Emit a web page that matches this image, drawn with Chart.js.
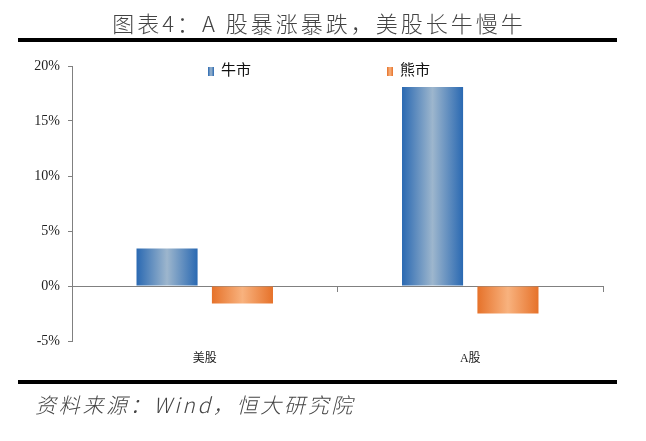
<!DOCTYPE html>
<html>
<head>
<meta charset="utf-8">
<script src="https://cdn.jsdelivr.net/npm/chart.js@4.4.0/dist/chart.umd.min.js"></script>
<style>
    body { margin: 0; background: white; }
    #tela { position: relative; width: 646px; height: 441px; overflow: hidden; background: white; }
    #grafico_box { position: absolute; left: 0; top: 0; width: 646px; height: 441px; }
    #titulo {
        position: absolute; left: 0; top: 8px; width: 638px; text-align: center;
        font-family: "Noto Sans CJK SC", sans-serif; font-weight: 300; font-size: 22px; line-height: 28px;
        color: #444; letter-spacing: 3px;
    }
    .linha { position: absolute; left: 18px; width: 599px; height: 4px; background: black; }
    #fonte {
        position: absolute; left: 35px; top: 390px;
        font-family: "Noto Sans CJK SC", sans-serif; font-weight: 300; font-size: 21px; line-height: 28px;
        font-style: italic; color: #444; letter-spacing: 2.7px;
    }
    .legenda { position: absolute; top: 59px; font-family: "Noto Sans CJK SC", sans-serif; font-size: 15px; line-height: 20px; color: #111; }
    .legenda span.caixa { display: inline-block; width: 6px; height: 9px; margin-right: 7px; vertical-align: -1px; }
</style>
</head>
<body>
<div id="tela">
    <div id="grafico_box"><canvas id="chart_mercado" width="646" height="441"></canvas></div>
    <div id="titulo">图表4：A 股暴涨暴跌，美股长牛慢牛</div>
    <div class="linha" style="top: 38px;"></div>
    <div id="legenda_box"></div>
    <div class="linha" style="top: 380px;"></div>
    <div id="fonte">资料来源：Wind，恒大研究院</div>
</div>
<script>
// DADOS
const categorias = ['美股', 'A股'];
const nomes_series = ['牛市', '熊市'];
const valores_touro = [3.4, 18.1];
const valores_urso = [-1.6, -2.5];
const ticks_y = [-5, 0, 5, 10, 15, 20];

// cores das barras (borda escura, centro claro)
const cores = [
    { escura: '#2a69b2', clara: '#9db6cd' },
    { escura: '#e6722a', clara: '#f8b27e' }
];
const posicao_legenda = [208, 387];

// LEGENDA
var legenda_box = document.getElementById('legenda_box');
for (var i = 0; i < nomes_series.length; i++) {
    var item = document.createElement('div');
    item.className = 'legenda';
    item.style.left = posicao_legenda[i] + 'px';
    item.innerHTML = '<span class="caixa" style="background: linear-gradient(to right, ' + cores[i].escura + ', ' + cores[i].clara + ', ' + cores[i].escura + ');"></span>' + nomes_series[i];
    legenda_box.appendChild(item);
}

// gradiente horizontal em cada barra
const pluginGradiente = {
    id: 'gradiente',
    beforeDatasetsDraw(chart) {
        const ctx = chart.ctx;
        chart.data.datasets.forEach((ds, d) => {
            const meta = chart.getDatasetMeta(d);
            meta.data.forEach((el) => {
                const p = el.getProps(['x', 'width'], true);
                const g = ctx.createLinearGradient(p.x - p.width / 2, 0, p.x + p.width / 2, 0);
                g.addColorStop(0, cores[d].escura);
                g.addColorStop(0.5, cores[d].clara);
                g.addColorStop(1, cores[d].escura);
                el.options = Object.assign({}, el.options, { backgroundColor: g });
            });
        });
    }
};

// GRAFICO
new Chart(document.getElementById('chart_mercado'), {
    type: 'bar',
    data: {
        labels: categorias,
        datasets: [
            { label: nomes_series[0], data: valores_touro, backgroundColor: cores[0].escura, borderWidth: 0 },
            { label: nomes_series[1], data: valores_urso, backgroundColor: cores[1].escura, borderWidth: 0 }
        ]
    },
    options: {
        responsive: false,
        animation: false,
        categoryPercentage: 0.568,
        barPercentage: 0.81,
        layout: { padding: { top: 66, right: 43, left: 0, bottom: 0 } },
        scales: {
            x: {
                offset: true,
                grid: { display: false, drawTicks: false },
                border: { display: false },
                ticks: {
                    padding: 11,
                    color: '#222',
                    font: { family: '"Liberation Serif", "Noto Sans CJK SC"', size: 12 }
                },
                afterFit: (s) => { s.height = 100; }
            },
            x0: {
                type: 'category',
                position: { y: 0 },
                offset: true,
                ticks: { display: false },
                grid: { drawOnChartArea: false, offset: true, tickLength: 5, color: '#808080' },
                border: { color: '#808080' }
            },
            y: {
                min: ticks_y[0],
                max: ticks_y[ticks_y.length - 1],
                afterBuildTicks: (s) => { s.ticks = ticks_y.map(v => ({ value: v })); },
                grid: { drawOnChartArea: false, tickLength: 4, color: '#808080' },
                border: { color: '#808080' },
                ticks: {
                    padding: 8,
                    color: '#222',
                    font: { family: '"Liberation Serif", serif', size: 14 },
                    callback: (v) => v + '%'
                },
                afterFit: (s) => { s.width = 72; }
            }
        },
        plugins: {
            legend: { display: false },
            tooltip: { enabled: false }
        }
    },
    plugins: [pluginGradiente]
});
</script>
</body>
</html>
